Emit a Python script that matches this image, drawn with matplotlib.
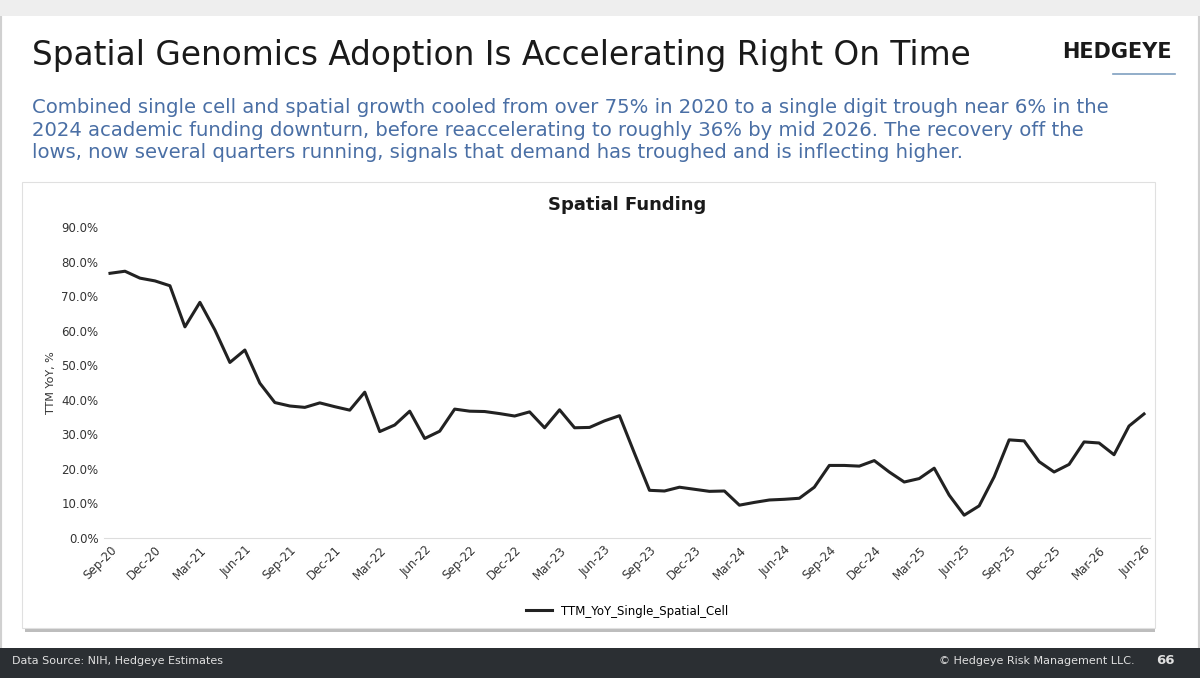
import matplotlib
matplotlib.use("Agg")
import matplotlib.pyplot as plt
from matplotlib.patches import Rectangle
import pandas as pd

values = [76.6, 77.2, 75.2, 74.4, 73.0, 61.1, 68.2, 60.2, 50.8, 54.4, 44.8, 39.2, 38.2, 37.8, 39.1,
          38.0, 37.0, 42.2, 30.8, 32.7, 36.7, 28.8, 30.9, 37.3, 36.7, 36.6, 36.0, 35.3, 36.5, 31.9,
          37.1, 31.9, 32.0, 33.9, 35.4, 24.5, 13.8, 13.6, 14.7, 14.1, 13.5, 13.6, 9.5, 10.3, 11.0,
          11.2, 11.5, 14.7, 21.0, 21.0, 20.8, 22.4, 19.1, 16.2, 17.2, 20.2, 12.4, 6.6, 9.3, 17.7,
          28.4, 28.1, 22.1, 19.1, 21.3, 27.8, 27.5, 24.1, 32.4, 35.9]
dates = pd.date_range("2020-09-01", periods=len(values), freq="MS")
tick_idx = list(range(0, len(values), 3))
tick_labels = [dates[i].strftime("%b-%y") for i in tick_idx]

fig = plt.figure(figsize=(12, 6.78), dpi=100)
fig.patch.set_facecolor("white")
W, H = 1200, 678
def fx(x): return x / W
def fy(y): return 1 - y / H

fig.add_artist(Rectangle((0, 0), 1, 1, transform=fig.transFigure, fill=False, ec="#d0d0d0", lw=3, zorder=0))
fig.add_artist(Rectangle((0, fy(16)), 1, 16 / H, transform=fig.transFigure, color="#eeeeee", lw=0, zorder=0))
fig.add_artist(Rectangle((fx(25), fy(632)), (1155 - 25) / W, (632 - 185) / H, transform=fig.transFigure,
                         color="#bdbdbd", lw=0, zorder=0))
fig.add_artist(Rectangle((fx(22), fy(628)), (1152 - 22 + 3) / W, (628 - 182) / H, transform=fig.transFigure,
                         color="white", ec="#e0e0e0", lw=0.8, zorder=0.1))
fig.add_artist(Rectangle((0, 0), 1, 30 / H, transform=fig.transFigure, color="#2b2f33", lw=0, zorder=0))
fig.text(fx(12), fy(661), "Data Source: NIH, Hedgeye Estimates", color="#e0e0e0", fontsize=8, va="center")
fig.text(fx(1135), fy(661), "© Hedgeye Risk Management LLC.", color="#e0e0e0", fontsize=8, va="center", ha="right")
fig.text(fx(1175), fy(661), "66", color="#e0e0e0", fontsize=9.5, va="center", ha="right", fontweight="bold")

fig.text(fx(32), fy(55), "Spatial Genomics Adoption Is Accelerating Right On Time", fontsize=23.6,
         color="#1a1a1a", va="center")
fig.text(fx(1172), fy(52), "HEDGEYE", fontsize=15, fontweight="bold", color="#1a1a1a", ha="right", va="center")
fig.add_artist(plt.Line2D([fx(1113), fx(1175)], [fy(74), fy(74)], color="#7f9fc0", lw=1.2))
fig.text(fx(32), fy(130),
         "Combined single cell and spatial growth cooled from over 75% in 2020 to a single digit trough near 6% in the\n"
         "2024 academic funding downturn, before reaccelerating to roughly 36% by mid 2026. The recovery off the\n"
         "lows, now several quarters running, signals that demand has troughed and is inflecting higher.",
         fontsize=14.1, color="#4a6fa5", va="center", linespacing=1.25)

ax = fig.add_axes([fx(104), fy(538), (1150 - 104) / W, (538 - 227) / H], zorder=2)
ax.patch.set_alpha(0)
x = list(range(len(values)))
ax.plot(x, values, color="#222222", lw=2.2, label="TTM_YoY_Single_Spatial_Cell")
ax.set_ylim(0, 90)
ax.set_xlim(-0.4, len(values) - 0.6)
ax.set_yticks(range(0, 91, 10))
ax.set_yticklabels([f"{v:.1f}%" for v in range(0, 91, 10)], fontsize=8.5, color="#333333")
ax.set_xticks(tick_idx)
ax.set_xticklabels(tick_labels, rotation=45, ha="right", rotation_mode="anchor", fontsize=8.5, color="#333333")
ax.tick_params(length=0, pad=4)
for s in ["top", "right", "left"]:
    ax.spines[s].set_visible(False)
ax.spines["bottom"].set_color("#dddddd")
ax.set_ylabel("TTM YoY, %", fontsize=8, color="#333333")
ax.set_title("Spatial Funding", fontsize=13, fontweight="bold", color="#1a1a1a", pad=12)
ax.legend(loc="upper center", bbox_to_anchor=(0.5, -0.18), frameon=False, fontsize=8.5, handlelength=2.2)

fig.savefig("out.png", dpi=100)
